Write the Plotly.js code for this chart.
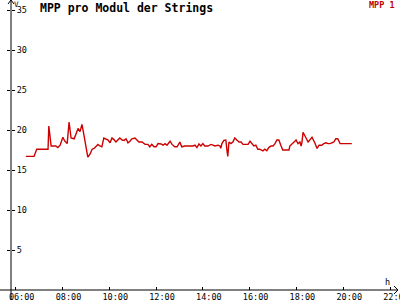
<!DOCTYPE html>
<html>
<head>
<meta charset="utf-8">
<script src="https://cdn.plot.ly/plotly-3.0.1.min.js"></script>
<style>html,body{margin:0;padding:0;background:#fff;}#chart{width:400px;height:300px;}</style>
</head>
<body>
<div id="chart"></div>
<script>
const times = ["06:26","06:47","06:54","07:19","07:23","07:25","07:31","07:43","07:48","07:54",
"08:01","08:06","08:12","08:17","08:22","08:30","08:35","08:40","08:45","08:50",
"08:55","09:00","09:05","09:11","09:16","09:21","09:26","09:31","09:36","09:41",
"09:46","09:52","09:57","10:02","10:07","10:12","10:17","10:22","10:27","10:33",
"10:38","10:43","10:48","10:53","10:58","11:06","11:11","11:16","11:24","11:32",
"11:39","11:44","11:49","11:55","12:00","12:05","12:13","12:18","12:23","12:28",
"12:36","12:41","12:48","12:54","13:01","13:06","13:14","13:35","13:40","13:45",
"13:50","13:55","14:00","14:05","14:13","14:21","14:26","14:31","14:39","14:44",
"14:46","14:49","14:54","14:59","15:02","15:04","15:07","15:12","15:17","15:22",
"15:27","15:33","15:38","15:43","15:48","15:56","16:01","16:06","16:11","16:16",
"16:21","16:26","16:32","16:34","16:39","16:44","16:49","16:55","17:00","17:05",
"17:10","17:15","17:20","17:25","17:33","17:41","17:43","17:51","17:56","17:59",
"18:04","18:09","18:12","18:14","18:17","18:22","18:30","18:35","18:40","18:47",
"18:53","18:58","19:05","19:10","19:16","19:21","19:26","19:31","19:36","19:41",
"19:46","19:52","20:22"];
const mpp1 = [16.7,16.7,17.6,17.6,17.6,20.5,18.0,18.0,17.8,18.1,
19.1,18.6,18.3,21.0,19.0,18.9,19.5,20.2,19.8,20.7,
19.4,17.9,16.6,17.0,17.6,17.7,17.9,18.2,18.0,17.9,
19.0,18.9,18.75,18.4,19.0,18.8,18.5,18.75,19.0,18.75,
18.7,18.9,18.4,18.6,18.9,19.0,18.75,18.5,18.5,18.2,
18.2,17.9,18.2,17.9,17.9,18.3,18.25,18.1,18.3,18.1,
18.6,18.2,17.9,17.9,18.5,17.9,18.0,18.0,18.1,17.8,
18.25,18.0,18.3,18.0,18.0,18.2,18.1,18.0,18.1,18.0,
17.7,18.3,18.7,18.75,17.4,16.7,18.5,18.3,18.5,19.0,
18.75,18.5,18.5,18.2,18.2,18.2,18.6,18.3,18.0,18.1,
17.6,17.6,17.5,17.4,17.6,17.4,17.8,18.0,18.0,18.3,
18.75,18.75,18.1,17.5,17.5,17.5,18.0,18.3,18.6,18.75,
18.3,18.5,18.0,18.4,19.7,19.25,18.5,18.8,19.1,18.4,
17.7,18.1,18.1,18.3,18.4,18.3,18.3,18.4,18.5,18.9,
18.9,18.3,18.3];
const xTicks = ["06:00","08:00","10:00","12:00","14:00","16:00","18:00","20:00","22:00"];
const yTicks = [5,10,15,20,25,30,35];
const seriesName = "MPP 1";
const titleText = "MPP pro Modul der Strings";

const toHours = s => { const p = s.split(":"); return Number(p[0]) + Number(p[1]) / 60; };

const L = 11, R = 2, T = 0, B = 10, W = 400, H = 300;
const pw = W - L - R, ph = H - T - B;
const px = v => (v - L) / pw;
const py = v => (H - B - v) / ph;
const font = "DejaVu Sans Mono, monospace";
const yRange = [0, 36.25];
const xRange = [5.8, 22.342];

const trace = {
  x: times.map(toHours),
  y: mpp1,
  type: "scatter",
  mode: "lines",
  name: seriesName,
  line: {color: "#cc0000", width: 1.4},
  showlegend: false,
  hoverinfo: "skip"
};
const labelAxisTrace = {x: [], y: [], type: "scatter", mode: "lines", yaxis: "y2", showlegend: false, hoverinfo: "skip"};

const layout = {
  width: W, height: H,
  margin: {l: L, r: R, t: T, b: B, pad: 0},
  paper_bgcolor: "#fff", plot_bgcolor: "#fff",
  showlegend: false,
  title: {text: "<b>" + titleText + "</b>", x: 40 / W, xanchor: "left", xref: "container",
          y: 1 - 8 / H, yanchor: "middle", yref: "container",
          font: {family: font, size: 11.5, color: "#000"}},
  xaxis: {
    type: "linear",
    range: xRange,
    tickvals: xTicks.map(toHours),
    ticktext: xTicks,
    ticks: "inside", ticklen: 3, tickcolor: "#000", tickwidth: 1,
    showgrid: false, zeroline: false, showline: false,
    tickfont: {family: font, size: 8.5, color: "#000"},
    ticklabelshift: 6,
    ticklabeloverflow: "allow",
    automargin: false, fixedrange: true
  },
  yaxis: {
    range: yRange,
    tickvals: yTicks,
    ticks: "outside", ticklen: 3, tickcolor: "#000", tickwidth: 1,
    showticklabels: false,
    showgrid: false, zeroline: false, showline: false,
    automargin: false, fixedrange: true
  },
  yaxis2: {
    overlaying: "y", side: "right", anchor: "free", position: 0,
    range: yRange,
    tickvals: yTicks,
    ticktext: yTicks.map(String),
    ticks: "outside", ticklen: 3, tickcolor: "#000", tickwidth: 1,
    ticklabelstandoff: 0,
    showgrid: false, zeroline: false, showline: false,
    tickfont: {family: font, size: 8.5, color: "#000"},
    automargin: false, fixedrange: true
  },
  shapes: [
    {type: "line", xref: "paper", yref: "paper", x0: 0, x1: 0, y0: py(300), y1: 1, line: {color: "#000", width: 1}},
    {type: "line", xref: "paper", yref: "paper", x0: px(0), x1: 1, y0: 0, y1: 0, line: {color: "#000", width: 1}},
    {type: "path", xref: "paper", yref: "paper",
     path: `M ${px(8)} ${py(4)} L ${px(11)} ${py(0)} L ${px(14)} ${py(4)}`, line: {color: "#000", width: 1}},
    {type: "path", xref: "paper", yref: "paper",
     path: `M ${px(394)} ${py(286)} L ${px(398)} ${py(290)} L ${px(394)} ${py(294)}`, line: {color: "#000", width: 1}}
  ],
  annotations: [
    {text: "<b>" + seriesName + "</b>", xref: "paper", yref: "paper", x: px(382), y: py(5), xanchor: "center", yanchor: "middle",
     showarrow: false, font: {family: font, size: 8.5, color: "#c00000"}},
    {text: "V", xref: "paper", yref: "paper", x: px(16), y: py(4), xanchor: "center", yanchor: "middle",
     showarrow: false, font: {family: font, size: 7.5, color: "#000"}},
    {text: "h", xref: "paper", yref: "paper", x: px(387), y: py(282), xanchor: "center", yanchor: "middle",
     showarrow: false, font: {family: font, size: 8.5, color: "#000"}}
  ]
};

Plotly.newPlot("chart", [trace, labelAxisTrace], layout, {displayModeBar: false, staticPlot: true});
</script>
</body>
</html>
